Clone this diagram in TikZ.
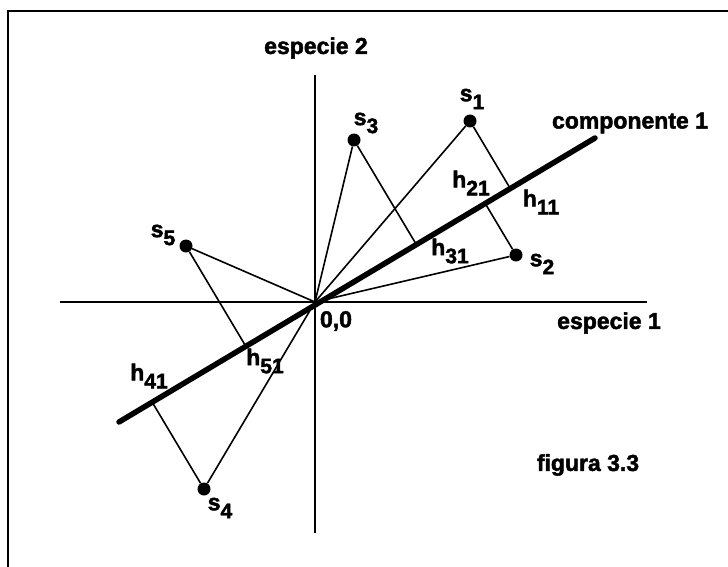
\documentclass[tikz,border=0pt]{standalone}
\usepackage{fontspec}
\setmainfont{Liberation Sans}[BoldFeatures={FakeBold=2}]
\usetikzlibrary{calc}
\newcommand\mysub[2]{#1\lower8pt\hbox{\fontsize{21}{21}\selectfont #2}}
\begin{document}
\begin{tikzpicture}[x=1pt,y=-1pt,
  lbl/.style={font=\bfseries\fontsize{23}{23}\selectfont, inner sep=0pt},
  frameline/.style={line width=2pt},
  axisline/.style={line width=1.8pt},
  conn/.style={line width=1.6pt},
  comp/.style={line width=5.5pt, line cap=round},
  dot/.style={circle, fill=black, inner sep=0pt, minimum size=13pt}]
\useasboundingbox (0,0) rectangle (728,567);
% frame
\coordinate (fbl) at (8,567);
\coordinate (ftl) at (8,11);
\coordinate (ftr) at (728,11);
\draw[frameline] (fbl) -- (ftl) -- (ftr);
% axes
\coordinate (O) at (315,302);
\coordinate (ytop) at (315,75);
\coordinate (ybot) at (315,533);
\coordinate (xl) at (60,302);
\coordinate (xr) at (647,302);
\draw[axisline] (ytop) -- (ybot);
\draw[axisline] (xl) -- (xr);
% component line ends
\coordinate (c1) at (119,422);
\coordinate (c2) at (595,138);
% points
\node[dot] (s1) at (470,121) {};
\node[dot] (s2) at (516,255) {};
\node[dot] (s3) at (354,140) {};
\node[dot] (s4) at (204,489) {};
\node[dot] (s5) at (186,246) {};
% feet of perpendiculars
\coordinate (f1) at ($(c1)!(s1)!(c2)$);
\coordinate (f2) at ($(c1)!(s2)!(c2)$);
\coordinate (f3) at ($(c1)!(s3)!(c2)$);
\coordinate (f4) at ($(c1)!(s4)!(c2)$);
\coordinate (f5) at ($(c1)!(s5)!(c2)$);
% connectors
\draw[conn] (O) -- (s1) -- (f1);
\draw[conn] (O) -- (s2) -- (f2);
\draw[conn] (O) -- (s3) -- (f3);
\draw[conn] (O) -- (s4) -- (f4);
\draw[conn] (O) -- (s5) -- (f5);
\draw[comp] (c1) -- (c2);
% labels
\node[lbl] (le2) at (316,48) {especie 2};
\node[lbl] (le1) at (609,323) {especie 1};
\node[lbl] (lc1) at (630,123) {componente 1};
\node[lbl] (l00) at (336,321) {0,0};
\node[lbl] (lfig) at (588,465) {figura 3.3};
\node[lbl] (ls1) at (472,99) {\mysub{s}{1}};
\node[lbl] (ls2) at (542,264) {\mysub{s}{2}};
\node[lbl] (ls3) at (366,123) {\mysub{s}{3}};
\node[lbl] (ls4) at (220,508) {\mysub{s}{4}};
\node[lbl] (ls5) at (163,235) {\mysub{s}{5}};
\node[lbl] (lh21) at (471,183) {\mysub{h}{21}};
\node[lbl] (lh11) at (541,202) {\mysub{h}{11}};
\node[lbl] (lh31) at (450,251) {\mysub{h}{31}};
\node[lbl] (lh41) at (149,376) {\mysub{h}{41}};
\node[lbl] (lh51) at (265,361) {\mysub{h}{51}};
\end{tikzpicture}
\end{document}
